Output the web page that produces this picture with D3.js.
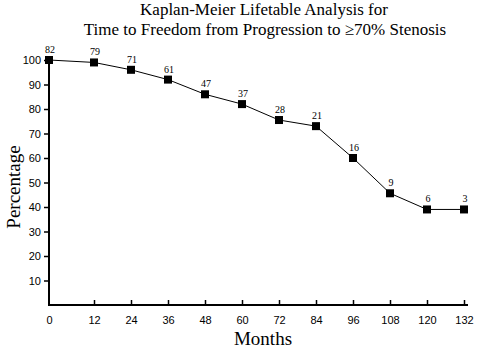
<!DOCTYPE html>
<html lang="en">
<head>
    <meta charset="UTF-8">
    <script src="https://d3js.org/d3.v7.min.js"></script>
    <title>Kaplan-Meier</title>
    <style>
        body { margin: 0; background: #fff; }
        text.title, text.axis-title, text.risk { font-family: 'Liberation Serif', 'Times New Roman', serif; fill: #000; }
        .tick text { font-family: 'Liberation Sans', Arial, sans-serif; font-size: 11px; fill: #000; }
    </style>
</head>
<body>
<svg height="350" width="480"></svg>
<script>
    const months = [0, 12, 24, 36, 48, 60, 72, 84, 96, 108, 120, 132];
    const percent = [100, 99, 96, 92, 86, 82, 75.5, 73, 60, 45.6, 39, 39];
    const atRisk = [82, 79, 71, 61, 47, 37, 28, 21, 16, 9, 6, 3];
    const yTicks = [10, 20, 30, 40, 50, 60, 70, 80, 90, 100];

    const svg = d3.select("svg");

    // first interval is drawn wider in the original
    const x = d3.scaleLinear().domain([0, 12, 132]).range([49, 94, 464]);
    const y = d3.scaleLinear().domain([0, 100]).range([305, 60]);

    const xAxis = d3.axisBottom(x).tickValues(months).tickSize(-5).tickPadding(11);
    const yAxis = d3.axisLeft(y).tickValues(yTicks).tickSize(5).tickPadding(3);

    const gx = svg.append("g").attr("transform", "translate(0,305)").call(xAxis);
    gx.select(".domain").attr("d", "M48,0H468").attr("stroke-width", 2);
    gx.selectAll(".tick line").attr("stroke-width", 1.5)
        .filter(d => d === 0).remove();

    const gy = svg.append("g").attr("transform", "translate(49,0)").call(yAxis);
    gy.select(".domain").attr("d", "M0,306V58").attr("stroke-width", 2);
    gy.selectAll(".tick line").attr("stroke-width", 1.5);

    const line = d3.line().x((d, i) => x(months[i])).y(d => y(d));
    svg.append("path").datum(percent)
        .attr("d", line).attr("fill", "none").attr("stroke", "#000").attr("stroke-width", 1);

    svg.selectAll("rect.pt").data(percent).enter().append("rect")
        .attr("class", "pt")
        .attr("x", (d, i) => x(months[i]) - 4).attr("y", d => y(d) - 4)
        .attr("width", 8).attr("height", 8).attr("fill", "#000");

    svg.selectAll("text.risk").data(atRisk).enter().append("text")
        .attr("class", "risk")
        .attr("x", (d, i) => x(months[i]) + 1).attr("y", (d, i) => y(percent[i]) - 7)
        .attr("text-anchor", "middle").attr("font-size", 10)
        .text(d => d);

    svg.append("text").attr("class", "title")
        .attr("x", 264).attr("y", 15).attr("text-anchor", "middle").attr("font-size", 17)
        .text("Kaplan-Meier Lifetable Analysis for");
    svg.append("text").attr("class", "title")
        .attr("x", 265).attr("y", 35).attr("text-anchor", "middle").attr("font-size", 17)
        .text("Time to Freedom from Progression to \u226570% Stenosis");

    svg.append("text").attr("class", "axis-title")
        .attr("x", 263).attr("y", 345).attr("text-anchor", "middle").attr("font-size", 19)
        .text("Months");
    svg.append("text").attr("class", "axis-title")
        .attr("transform", "translate(20,187) rotate(-90)")
        .attr("text-anchor", "middle").attr("font-size", 19)
        .text("Percentage");
</script>
</body>
</html>
